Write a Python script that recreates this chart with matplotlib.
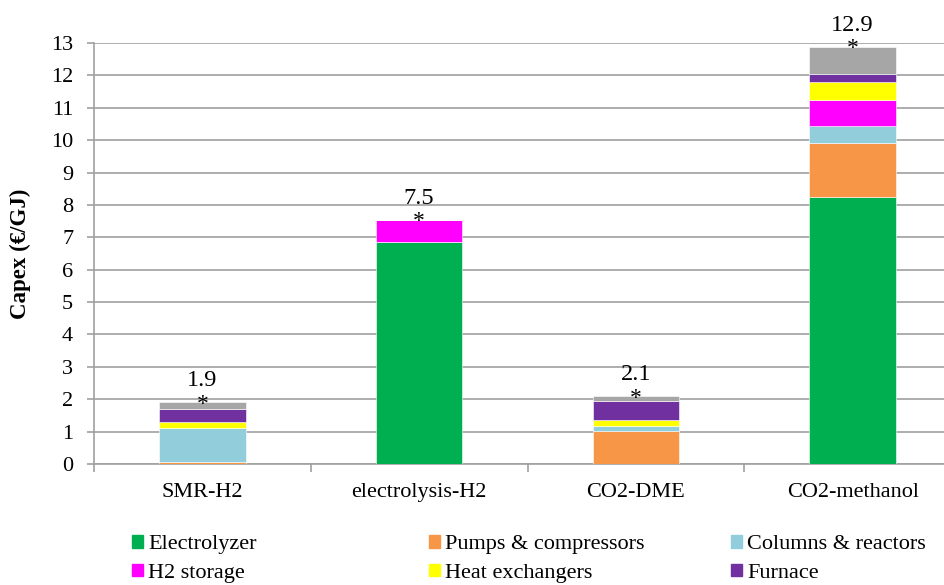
import numpy as np
import matplotlib.pyplot as plt
from matplotlib.patches import Patch

plt.rcParams['font.family'] = ['Liberation Serif', 'DejaVu Serif']

# datos
procesos = ['SMR-H2', 'electrolysis-H2', 'CO2-DME', 'CO2-methanol']
electrolyzer = [0.0, 6.87, 0.0, 8.26]
pumps = [0.07, 0.0, 1.02, 1.65]
columns = [1.05, 0.0, 0.16, 0.52]
h2_storage = [0.0, 0.67, 0.0, 0.82]
heat_exch = [0.19, 0.0, 0.19, 0.56]
furnace = [0.38, 0.0, 0.58, 0.23]
other = [0.22, 0.0, 0.15, 0.85]
totales = ['1.9', '7.5', '2.1', '12.9']

series = [electrolyzer, pumps, columns, h2_storage, heat_exch, furnace, other]
nombres = ['Electrolyzer', 'Pumps & compressors', 'Columns & reactors',
           'H2 storage', 'Heat exchangers', 'Furnace', 'Other']
colores = ['#00B050', '#F79646', '#92CDDC', '#FF00FF', '#FFFF00', '#7030A0', '#A6A6A6']

fig = plt.figure(figsize=(9.44, 5.85), dpi=100)
ax = fig.add_axes([94/944, 121/585, 867/944, 421/585])

x = np.arange(len(procesos))
base = np.zeros(len(procesos))
for s, n, c in zip(series, nombres, colores):
    ax.bar(x, s, 0.4, bottom=base, color=c, label=n, edgecolor='white', linewidth=0.4, zorder=3)
    base = base + np.array(s)

for xi, tot, t in zip(x, base, totales):
    ax.annotate('*', (xi, tot), xytext=(0, -1.5), textcoords='offset points',
                ha='center', va='center', fontsize=17, zorder=5)
    ax.annotate(t, (xi, tot), xytext=(0, 11.5), textcoords='offset points',
                ha='center', va='baseline', fontsize=17.5)

ax.set_xlim(-0.5, 3.5)
ax.set_ylim(0, 13)
ax.set_yticks(range(0, 14))
ax.yaxis.grid(True, color='#A0A0A0', linewidth=1.2, zorder=0)
ax.set_xticks(np.arange(-0.5, 4, 1))
ax.set_xticklabels([])
ax.set_xticks(x, minor=True)
ax.set_xticklabels(procesos, minor=True, fontsize=16)
ax.tick_params(axis='x', which='minor', length=0, pad=14)
ax.tick_params(axis='x', which='major', length=6, color='#A0A0A0', width=1.2)
ax.tick_params(axis='y', length=5, color='#A0A0A0', width=1.2, labelsize=16, pad=10)
for lado in ['top', 'right']:
    ax.spines[lado].set_visible(False)
for lado in ['left', 'bottom']:
    ax.spines[lado].set_color('#A0A0A0')
    ax.spines[lado].set_linewidth(1.2)
ax.set_ylabel('Capex (€/GJ)', fontsize=16.5, fontweight='bold')
ax.yaxis.set_label_coords(-63/867, 0.5)

# leyenda en tres columnas separadas
cols_x = [132/944, 429/944, 731/944]
for i, cx in enumerate(cols_x):
    hs = [Patch(color=colores[i]), Patch(color=colores[i + 3])]
    fig.legend(hs, [nombres[i], nombres[i + 3]], loc='upper left',
               bbox_to_anchor=(cx, 1 - 535/585), frameon=False, fontsize=16,
               handlelength=0.5, handleheight=0.5, handletextpad=0.23,
               labelspacing=0.43, borderpad=0, borderaxespad=0)

fig.savefig('out.png', dpi=100)
